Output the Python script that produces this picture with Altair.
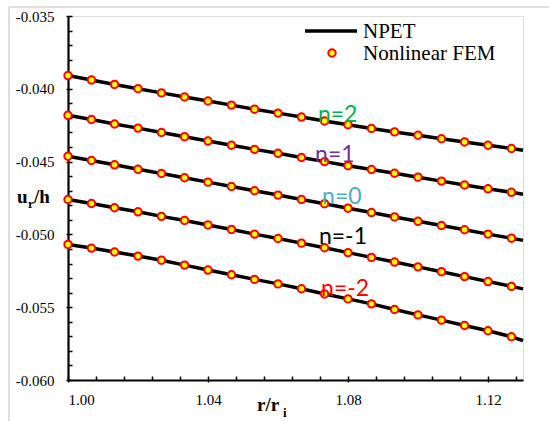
import altair as alt
import pandas as pd

# r / r_i positions of the nonlinear FEM samples
r_fem = [1.0000, 1.0067, 1.0133, 1.0200, 1.0267, 1.0333, 1.0400, 1.0467, 1.0533, 1.0600,
         1.0667, 1.0733, 1.0800, 1.0867, 1.0933, 1.1000, 1.1067, 1.1133, 1.1200, 1.1267]

# u_r / h from nonlinear FEM, one list per gradient index n
fem_n2 = [-0.03909, -0.03939, -0.03970, -0.03999, -0.04028, -0.04056, -0.04084, -0.04112, -0.04140, -0.04167,
          -0.04194, -0.04221, -0.04247, -0.04272, -0.04296, -0.04319, -0.04343, -0.04365, -0.04388, -0.04410]
fem_n1 = [-0.04182, -0.04211, -0.04242, -0.04270, -0.04300, -0.04329, -0.04359, -0.04388, -0.04416, -0.04443,
          -0.04472, -0.04500, -0.04528, -0.04554, -0.04580, -0.04607, -0.04634, -0.04661, -0.04687, -0.04711]
fem_n0 = [-0.04463, -0.04492, -0.04522, -0.04553, -0.04582, -0.04611, -0.04641, -0.04671, -0.04700, -0.04730,
          -0.04760, -0.04789, -0.04820, -0.04850, -0.04880, -0.04910, -0.04939, -0.04968, -0.04998, -0.05026]
fem_nm1 = [-0.04760, -0.04788, -0.04817, -0.04845, -0.04876, -0.04904, -0.04935, -0.04966, -0.04998, -0.05028,
           -0.05060, -0.05092, -0.05125, -0.05158, -0.05190, -0.05223, -0.05256, -0.05290, -0.05324, -0.05357]
fem_nm2 = [-0.05069, -0.05094, -0.05121, -0.05149, -0.05177, -0.05211, -0.05245, -0.05277, -0.05309, -0.05340,
           -0.05373, -0.05409, -0.05443, -0.05477, -0.05516, -0.05553, -0.05589, -0.05626, -0.05662, -0.05703]

# NPET curves run through the same points and on to the end of the axis
r_npet = r_fem + [1.13]
npet_n2 = fem_n2 + [-0.04422]
npet_n1 = fem_n1 + [-0.04724]
npet_n0 = fem_n0 + [-0.05041]
npet_nm1 = fem_nm1 + [-0.05374]
npet_nm2 = fem_nm2 + [-0.05730]

series_names = ["n=2", "n=1", "n=0", "n=-1", "n=-2"]
series_colors = ["#00B050", "#7030A0", "#4BACC6", "#000000", "#FF0000"]
label_r = [1.0714, 1.0706, 1.0726, 1.0717, 1.0723]
label_u = [-0.04225, -0.04506, -0.04794, -0.05068, -0.05425]

x_major = [1.00, 1.04, 1.08, 1.12]
x_minor = [1.000, 1.008, 1.016, 1.024, 1.032, 1.040, 1.048, 1.056, 1.064, 1.072, 1.080,
           1.088, 1.096, 1.104, 1.112, 1.120, 1.128]
y_major = [-0.035, -0.040, -0.045, -0.050, -0.055, -0.060]
y_minor = [round(-0.035 - 0.001 * i, 3) for i in range(26)]

fem_sets = [fem_n2, fem_n1, fem_n0, fem_nm1, fem_nm2]
npet_sets = [npet_n2, npet_n1, npet_n0, npet_nm1, npet_nm2]

fem_df = pd.DataFrame(
    [{"r": r, "u": u, "n": name} for name, vals in zip(series_names, fem_sets) for r, u in zip(r_fem, vals)]
)
npet_df = pd.DataFrame(
    [{"r": r, "u": u, "n": name} for name, vals in zip(series_names, npet_sets) for r, u in zip(r_npet, vals)]
)
label_df = pd.DataFrame({"r": label_r, "u": label_u, "n": series_names, "c": series_colors})

W, H = 455, 364
SERIF = "Liberation Serif"

x_scale = alt.Scale(domain=[1.0, 1.13], nice=False, zero=False)
y_scale = alt.Scale(domain=[-0.060, -0.035], nice=False, zero=False)

minus_fix = "(datum.value < 0 ? '-' : '') + format(abs(datum.value), '{}')"

x_axis = alt.Axis(values=x_major, labelExpr=minus_fix.format(".2f"), orient="bottom",
                  labelFont=SERIF, labelFontSize=15, labelColor="#000", labelPadding=10,
                  domainColor="#000", domainWidth=2.2, tickColor="#000", tickSize=2, tickWidth=1.5,
                  grid=False, title=None)
y_axis = alt.Axis(values=y_major, labelExpr=minus_fix.format(".3f"), orient="left",
                  labelFont=SERIF, labelFontSize=15, labelColor="#000", labelPadding=12,
                  domainColor="#000", domainWidth=2.2, tickColor="#000", tickSize=2, tickWidth=1.5,
                  grid=False, title=None)

# inward minor ticks: a second, label-less axis pulled inside the plot
x_axis_in = alt.Axis(values=x_minor, orient="bottom", labels=False, domain=False, grid=False,
                     tickColor="#000", tickSize=4, tickWidth=1.5, offset=-4, title=None)
y_axis_in = alt.Axis(values=y_minor, orient="left", labels=False, domain=False, grid=False,
                     tickColor="#000", tickSize=4, tickWidth=1.5, offset=-4, title=None)

lines = alt.Chart(npet_df).mark_line(color="#000", strokeWidth=3.5).encode(
    x=alt.X("r:Q", scale=x_scale, axis=x_axis),
    y=alt.Y("u:Q", scale=y_scale, axis=y_axis),
    detail="n:N",
)

points = alt.Chart(fem_df).mark_point(
    shape="circle", filled=True, fill="#FFFF00", stroke="#FF0000", strokeWidth=2, size=55, opacity=1
).encode(
    x=alt.X("r:Q", scale=x_scale, axis=x_axis_in),
    y=alt.Y("u:Q", scale=y_scale, axis=y_axis_in),
)

labels = alt.Chart(label_df).mark_text(
    font="Lato", fontSize=23, align="left", baseline="alphabetic"
).encode(
    x=alt.X("r:Q", scale=x_scale, axis=None),
    y=alt.Y("u:Q", scale=y_scale, axis=None),
    text="n:N",
    color=alt.Color("c:N", scale=None),
)


def text_at(txt, x, y, size, bold=False, font=SERIF):
    return alt.Chart(pd.DataFrame({"t": [txt]})).mark_text(
        font=font, fontSize=size, fontWeight="bold" if bold else "normal",
        align="left", baseline="alphabetic", color="#000"
    ).encode(x=alt.value(x), y=alt.value(y), text="t:N")


# legend
legend_line = alt.Chart(pd.DataFrame({"k": [0]})).mark_rule(color="#000", strokeWidth=3.5).encode(
    x=alt.value(237), x2=alt.value(289), y=alt.value(15)
)
legend_dot = alt.Chart(pd.DataFrame({"k": [0]})).mark_point(
    shape="circle", filled=True, fill="#FFFF00", stroke="#FF0000", strokeWidth=2, size=55, opacity=1
).encode(x=alt.value(264), y=alt.value(37))
legend_text = text_at("NPET", 295, 22, 21) + text_at("Nonlinear FEM", 295, 44, 21)

# axis titles with subscripts
y_title = text_at("u", -51, 187, 19, bold=True) + text_at("r", -40, 192, 13, bold=True) + \
    text_at("/h", -34, 187, 19, bold=True)
x_title = text_at("r/r", 189, 395, 19, bold=True) + text_at("i", 215, 401, 13, bold=True)

# light outer frame
frame = alt.Chart(pd.DataFrame({"k": [0]})).mark_rule(color="#D4D4D4", strokeWidth=1.5).encode(
    x=alt.value(-59), x2=alt.value(481), y=alt.value(-9)
) + alt.Chart(pd.DataFrame({"k": [0]})).mark_rule(color="#D4D4D4", strokeWidth=1.5).encode(
    x=alt.value(-59), y=alt.value(-9), y2=alt.value(410)
)

chart = alt.layer(
    frame, lines, points, labels, legend_line, legend_dot, legend_text, y_title, x_title
).resolve_axis(x="independent", y="independent").properties(
    width=W, height=H,
    autosize=alt.AutoSizeParams(type="none"),
    padding={"left": 68, "top": 16, "right": 26, "bottom": 41},
).configure_view(stroke=None).configure(background="#FFFFFF")

chart.save("out.html", embed_options={"renderer": "svg", "actions": False})
